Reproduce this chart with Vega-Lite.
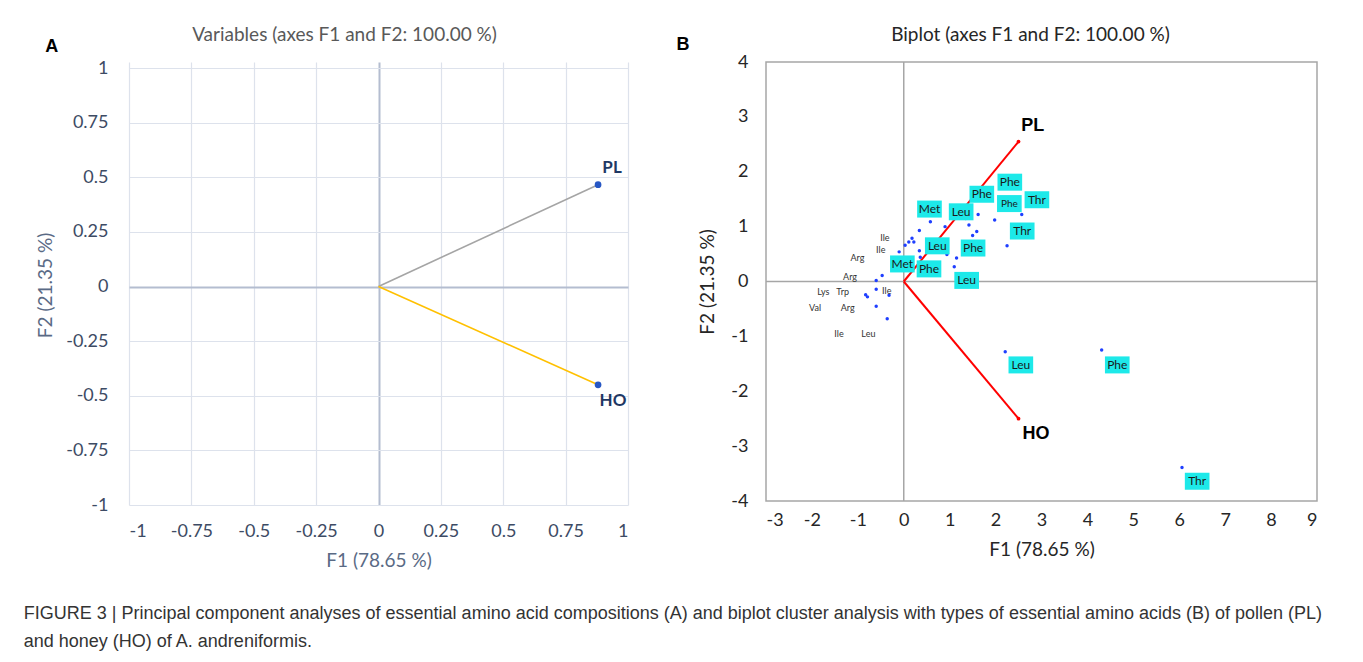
{
  "$schema": "https://vega.github.io/schema/vega-lite/v6.json",
  "padding": {"left": 23, "top": 25, "right": 10, "bottom": 10},
  "background": "white",
  "config": {
    "font": "Lato",
    "view": {"stroke": null},
    "concat": {"spacing": 47}
  },
  "title": {
    "text": ["FIGURE 3 | Principal component analyses of essential amino acid compositions (A) and biplot cluster analysis with types of essential amino acids (B) of pollen (PL)", "and honey (HO) of A. andreniformis."],
    "orient": "bottom", "anchor": "start", "frame": "bounds",
    "font": "Liberation Sans", "fontSize": 18, "fontWeight": "normal", "color": "#333333",
    "lineHeight": 28, "offset": 35, "dx": -13
  },
  "datasets": {
    "aVec": [
      {"var": "PL", "F1": 0, "F2": 0, "end": 0},
      {"var": "PL", "F1": 0.88, "F2": 0.466, "end": 1},
      {"var": "HO", "F1": 0, "F2": 0, "end": 0},
      {"var": "HO", "F1": 0.88, "F2": -0.45, "end": 1}
    ],
    "aLab": [
      {"t": "PL", "F1": 0.936, "F2": 0.543},
      {"t": "HO", "F1": 0.94, "F2": -0.525}
    ],
    "bVec": [
      {"var": "PL", "F1": 0, "F2": 0, "end": 0},
      {"var": "PL", "F1": 2.5, "F2": 2.55, "end": 1},
      {"var": "HO", "F1": 0, "F2": 0, "end": 0},
      {"var": "HO", "F1": 2.5, "F2": -2.5, "end": 1}
    ],
    "bVecLab": [
      {"t": "PL", "F1": 2.81, "F2": 2.83},
      {"t": "HO", "F1": 2.88, "F2": -2.78}
    ],
    "bTickX": [{"v": -2}, {"v": -1}, {"v": 1}, {"v": 2}, {"v": 3}, {"v": 4}, {"v": 5}, {"v": 6}, {"v": 7}, {"v": 8}],
    "bTickY": [{"v": -3}, {"v": -2}, {"v": -1}, {"v": 1}, {"v": 2}, {"v": 3}],
    "bPts": [
      {"F1": 0.58, "F2": 1.09}, {"F1": 0.34, "F2": 0.93}, {"F1": 0.11, "F2": 0.72}, {"F1": 0.18, "F2": 0.79},
      {"F1": 0.22, "F2": 0.72}, {"F1": 0.03, "F2": 0.66}, {"F1": -0.10, "F2": 0.54}, {"F1": 0.34, "F2": 0.56},
      {"F1": 0.36, "F2": 0.44}, {"F1": -0.47, "F2": 0.11}, {"F1": -0.60, "F2": 0.02}, {"F1": -0.60, "F2": -0.14},
      {"F1": -0.83, "F2": -0.24}, {"F1": -0.79, "F2": -0.28}, {"F1": -0.32, "F2": -0.25}, {"F1": -0.60, "F2": -0.45},
      {"F1": -0.36, "F2": -0.68}, {"F1": 0.90, "F2": 1.00}, {"F1": 1.35, "F2": 1.15}, {"F1": 1.62, "F2": 1.22},
      {"F1": 1.42, "F2": 1.03}, {"F1": 1.98, "F2": 1.12}, {"F1": 2.57, "F2": 1.22}, {"F1": 1.59, "F2": 0.91},
      {"F1": 1.50, "F2": 0.84}, {"F1": 2.25, "F2": 0.65}, {"F1": 0.94, "F2": 0.49}, {"F1": 1.15, "F2": 0.43},
      {"F1": 1.10, "F2": 0.27}, {"F1": 2.21, "F2": -1.28}, {"F1": 4.31, "F2": -1.25}, {"F1": 6.06, "F2": -3.39}
    ],
    "bCyan": [
      {"t": "Met", "F1": 0.56, "F2": 1.32, "fs": 12},
      {"t": "Leu", "F1": 1.25, "F2": 1.27, "fs": 12},
      {"t": "Phe", "F1": 1.70, "F2": 1.59, "fs": 12},
      {"t": "Phe", "F1": 2.31, "F2": 1.81, "fs": 12},
      {"t": "Phe", "F1": 2.30, "F2": 1.42, "fs": 10},
      {"t": "Thr", "F1": 2.90, "F2": 1.49, "fs": 12},
      {"t": "Thr", "F1": 2.58, "F2": 0.92, "fs": 12},
      {"t": "Leu", "F1": 0.73, "F2": 0.65, "fs": 12},
      {"t": "Phe", "F1": 1.51, "F2": 0.61, "fs": 12},
      {"t": "Met", "F1": -0.03, "F2": 0.32, "fs": 12},
      {"t": "Phe", "F1": 0.55, "F2": 0.23, "fs": 12},
      {"t": "Leu", "F1": 1.37, "F2": 0.02, "fs": 12},
      {"t": "Leu", "F1": 2.55, "F2": -1.52, "fs": 12},
      {"t": "Phe", "F1": 4.65, "F2": -1.52, "fs": 12},
      {"t": "Thr", "F1": 6.39, "F2": -3.64, "fs": 12}
    ],
    "bPlain": [
      {"t": "Ile", "F1": -0.41, "F2": 0.80},
      {"t": "Ile", "F1": -0.50, "F2": 0.57},
      {"t": "Arg", "F1": -1.01, "F2": 0.43},
      {"t": "Arg", "F1": -1.17, "F2": 0.08},
      {"t": "Lys", "F1": -1.75, "F2": -0.19},
      {"t": "Trp", "F1": -1.33, "F2": -0.19},
      {"t": "Ile", "F1": -0.37, "F2": -0.17},
      {"t": "Val", "F1": -1.93, "F2": -0.48},
      {"t": "Arg", "F1": -1.22, "F2": -0.48},
      {"t": "Ile", "F1": -1.41, "F2": -0.95},
      {"t": "Leu", "F1": -0.77, "F2": -0.95}
    ]
  },
  "hconcat": [
    {
      "width": 499,
      "height": 443,
      "title": {"text": "Variables (axes F1 and F2: 100.00 %)", "fontSize": 19, "fontWeight": "normal", "color": "#595959", "anchor": "middle", "frame": "group", "dx": -34, "offset": -7},
      "encoding": {
        "x": {
          "field": "F1", "type": "quantitative",
          "scale": {"domain": [-1, 1], "nice": false, "zero": false},
          "axis": {
            "title": "F1 (78.65 %)", "values": [-1, -0.75, -0.5, -0.25, 0, 0.25, 0.5, 0.75, 1],
            "labelExpr": "'' + datum.value", "domain": false, "ticks": false,
            "labelFontSize": 18, "labelColor": "#3d4b64", "labelPadding": 17,
            "titleFontSize": 19, "titleFontWeight": "normal", "titleColor": "#5a6a85", "titlePadding": 11,
            "gridColor": {"condition": {"test": "datum.value === 0", "value": "#b4bdd0"}, "value": "#dde2ec"},
            "gridWidth": {"condition": {"test": "datum.value === 0", "value": 2}, "value": 1.2}
          }
        },
        "y": {
          "field": "F2", "type": "quantitative",
          "scale": {"domain": [-1, 1.0275], "nice": false, "zero": false},
          "axis": {
            "title": "F2 (21.35 %)", "titleY": 223, "values": [-1, -0.75, -0.5, -0.25, 0, 0.25, 0.5, 0.75, 1],
            "labelExpr": "'' + datum.value", "domain": false, "ticks": false,
            "labelFontSize": 18, "labelColor": "#3d4b64", "labelPadding": 21,
            "titleFontSize": 19, "titleFontWeight": "normal", "titleColor": "#5a6a85", "titlePadding": 10,
            "gridColor": {"condition": {"test": "datum.value === 0", "value": "#b4bdd0"}, "value": "#dde2ec"},
            "gridWidth": {"condition": {"test": "datum.value === 0", "value": 2}, "value": 1.2}
          }
        }
      },
      "layer": [
        {
          "data": {"name": "aVec"},
          "mark": {"type": "line", "strokeWidth": 1.6},
          "encoding": {
            "color": {"field": "var", "type": "nominal", "scale": {"domain": ["PL", "HO"], "range": ["#a5a5a5", "#ffc000"]}, "legend": null},
            "order": {"field": "end", "type": "quantitative"}
          }
        },
        {
          "data": {"name": "aVec"},
          "transform": [{"filter": "datum.end === 1"}],
          "mark": {"type": "circle", "size": 45, "color": "#2757c4", "opacity": 1}
        },
        {
          "data": {"name": "aLab"},
          "mark": {"type": "text", "fontSize": 17, "fontWeight": "bold", "color": "#1f3864", "baseline": "middle"},
          "encoding": {"text": {"field": "t"}}
        },
        {
          "data": {"values": [{"t": "A", "F1": -1.31, "F2": 1.096}]},
          "mark": {"type": "text", "fontSize": 18, "fontWeight": "bold", "font": "Liberation Sans", "color": "#000000", "baseline": "middle"},
          "encoding": {"text": {"field": "t"}}
        }
      ]
    },
    {
      "width": 551,
      "height": 439,
      "view": {"stroke": "#a6a6a6", "strokeWidth": 1.5},
      "title": {"text": "Biplot (axes F1 and F2: 100.00 %)", "fontSize": 19, "fontWeight": "normal", "color": "#262626", "anchor": "middle", "frame": "group", "dx": -11, "offset": -9},
      "encoding": {
        "x": {
          "field": "F1", "type": "quantitative",
          "scale": {"domain": [-3, 9], "nice": false, "zero": false},
          "axis": {
            "title": "F1 (78.65 %)", "values": [-3, -2, -1, 0, 1, 2, 3, 4, 5, 6, 7, 8, 9],
            "labelExpr": "'' + datum.value", "domain": false, "ticks": false, "grid": false,
            "labelFontSize": 18, "labelColor": "#262626", "labelPadding": 10,
            "titleFontSize": 19, "titleFontWeight": "normal", "titleColor": "#262626", "titlePadding": 11
          }
        },
        "y": {
          "field": "F2", "type": "quantitative",
          "scale": {"domain": [-4, 4], "nice": false, "zero": false},
          "axis": {
            "title": "F2 (21.35 %)", "values": [-4, -3, -2, -1, 0, 1, 2, 3, 4],
            "labelExpr": "'' + datum.value", "domain": false, "ticks": false, "grid": false,
            "labelFontSize": 18, "labelColor": "#262626", "labelPadding": 18,
            "titleFontSize": 19, "titleFontWeight": "normal", "titleColor": "#262626", "titlePadding": 13
          }
        }
      },
      "layer": [
        {
          "data": {"values": [{"F1": 0}]},
          "mark": {"type": "rule", "color": "#a6a6a6", "strokeWidth": 1.5},
          "encoding": {"y": null}
        },
        {
          "data": {"values": [{"F2": 0}]},
          "mark": {"type": "rule", "color": "#a6a6a6", "strokeWidth": 1.5},
          "encoding": {"x": null}
        },
        {
          "data": {"name": "bTickX"},
          "mark": {"type": "tick", "orient": "vertical", "size": 8, "thickness": 1.5, "color": "#a6a6a6"},
          "encoding": {"x": {"field": "v", "type": "quantitative"}, "y": {"datum": 0}}
        },
        {
          "data": {"name": "bTickY"},
          "mark": {"type": "tick", "orient": "horizontal", "size": 14, "thickness": 1.5, "color": "#a6a6a6"},
          "encoding": {"y": {"field": "v", "type": "quantitative"}, "x": {"datum": 0}}
        },
        {
          "data": {"name": "bVec"},
          "mark": {"type": "line", "strokeWidth": 2, "color": "#ff0000"},
          "encoding": {
            "detail": {"field": "var", "type": "nominal"},
            "order": {"field": "end", "type": "quantitative"}
          }
        },
        {
          "data": {"name": "bVec"},
          "transform": [{"filter": "datum.end === 1"}],
          "mark": {"type": "circle", "size": 14, "color": "#ff0000", "opacity": 1}
        },
        {
          "data": {"name": "bPts"},
          "mark": {"type": "circle", "size": 12, "color": "#1f3fff", "opacity": 1}
        },
        {
          "data": {"name": "bCyan"},
          "mark": {"type": "point", "shape": "M-1.45,-1L1.45,-1L1.45,1L-1.45,1Z", "size": 289, "filled": true, "color": "#1de9e9", "opacity": 1, "strokeWidth": 0}
        },
        {
          "data": {"name": "bCyan"},
          "mark": {"type": "text", "color": "#1a1a1a", "baseline": "middle"},
          "encoding": {"text": {"field": "t"}, "size": {"field": "fs", "type": "quantitative", "scale": null}}
        },
        {
          "data": {"name": "bPlain"},
          "mark": {"type": "text", "fontSize": 9, "color": "#333333", "baseline": "middle"},
          "encoding": {"text": {"field": "t"}}
        },
        {
          "data": {"name": "bVecLab"},
          "mark": {"type": "text", "fontSize": 18, "fontWeight": "bold", "font": "Liberation Sans", "color": "#000000", "baseline": "middle"},
          "encoding": {"text": {"field": "t"}}
        },
        {
          "data": {"values": [{"t": "B", "F1": -4.81, "F2": 4.31}]},
          "mark": {"type": "text", "fontSize": 18, "fontWeight": "bold", "font": "Liberation Sans", "color": "#000000", "baseline": "middle"},
          "encoding": {"text": {"field": "t"}}
        }
      ]
    }
  ]
}
